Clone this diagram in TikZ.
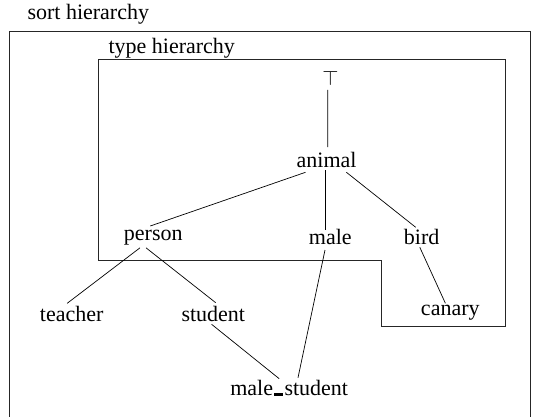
\documentclass[tikz,border=0pt]{standalone}
\usepackage{fontspec}
\setmainfont{Liberation Serif}
\usetikzlibrary{calc}
\newcommand{\lowbar}{\kern0.06em\rule{0.4em}{2.5pt}\kern0.06em}
\begin{document}
\begin{tikzpicture}[x=1pt,y=-1pt,
  lbl/.style={inner sep=0pt, anchor=base, font=\fontsize{22}{26}\selectfont},
  edge/.style={draw=black, line width=0.7pt},
  frame/.style={draw=black!85, line width=0.9pt}]
\useasboundingbox (0,0) rectangle (535,417);
% frames
\draw[frame] (9.5,417) -- (9.5,31) -- (530,31) -- (530,417);
\draw[frame] (98.3,59) -- (505.7,59) -- (505.7,326.7) -- (381.7,326.7)
  -- (381.7,260.7) -- (98.3,260.7) -- cycle;
% labels
\node[lbl, anchor=base west] (sort) at (27.3,19.3) {sort hierarchy};
\node[lbl, anchor=base west] (type) at (108.3,53.3) {type hierarchy};
% nodes
\node[lbl] (top) at (330.5,86) {$\top$};
\node[lbl] (animal) at (326.6,167) {animal};
\node[lbl] (person) at (153.3,240) {person};
\node[lbl] (male) at (330.3,244.3) {male};
\node[lbl] (bird) at (421.7,244.3) {bird};
\node[lbl] (teacher) at (71.7,321) {teacher};
\node[lbl] (student) at (213.3,321) {student};
\node[lbl] (canary) at (450.3,315.7) {canary};
\node[lbl] (malestudent) at (289.2,395.7) {male\lowbar student};
% connectors
\draw[edge] ($(top.base)+(-2.8,4)$) -- ($(animal.base)+(1.1,-20)$);
\draw[edge] ($(animal.base)+(-21.1,5.3)$) -- ($(person.base)+(-3,-14)$);
\draw[edge] ($(animal.base)+(-1.3,3)$) -- ($(male.base)+(-5,-14.3)$);
\draw[edge] ($(animal.base)+(19.8,5.3)$) -- ($(bird.base)+(-6,-17)$);
\draw[edge] ($(person.base)+(-13.3,7.8)$) -- ($(teacher.base)+(-4.5,-17.7)$);
\draw[edge] ($(person.base)+(-7.3,7.8)$) -- ($(student.base)+(2.4,-18.3)$);
\draw[edge] ($(male.base)+(-5.3,5.7)$) -- ($(malestudent.base)+(8.8,-18)$);
\draw[edge] ($(bird.base)+(-1.9,3)$) -- ($(canary.base)+(-4.9,-12.4)$);
\draw[edge] ($(student.base)+(-1.7,3.3)$) -- ($(malestudent.base)+(-10,-17)$);
\end{tikzpicture}
\end{document}
